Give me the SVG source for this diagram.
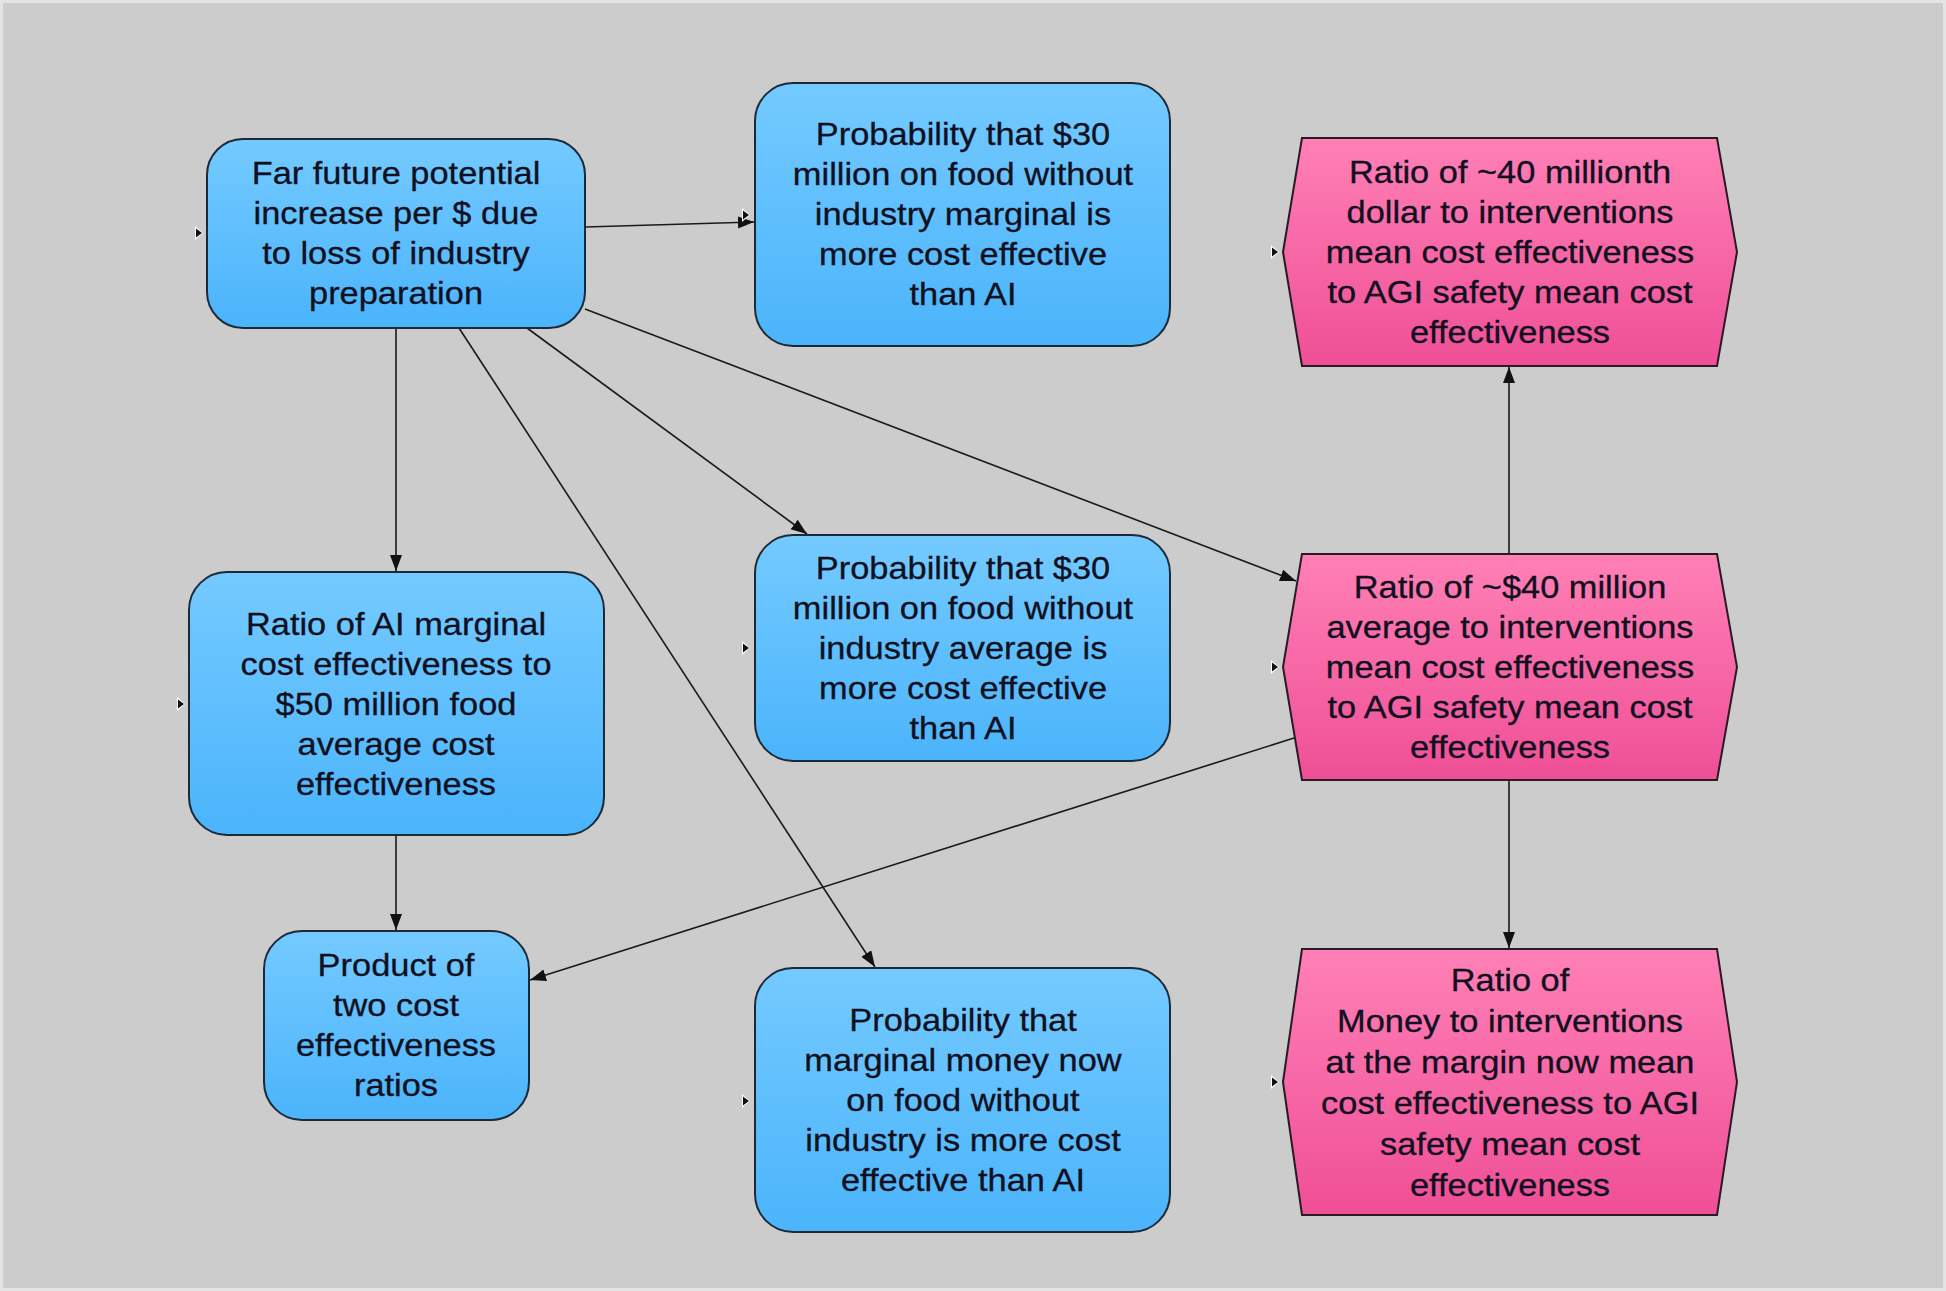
<svg xmlns="http://www.w3.org/2000/svg" width="1946" height="1291" viewBox="0 0 1946 1291">
<defs>
<linearGradient id="gBlue" x1="0" y1="0" x2="0" y2="1">
<stop offset="0" stop-color="#74caff"/>
<stop offset="1" stop-color="#4bb4fb"/>
</linearGradient>
<linearGradient id="gPink" x1="0" y1="0" x2="0" y2="1">
<stop offset="0" stop-color="#ff80b6"/>
<stop offset="1" stop-color="#ef4f96"/>
</linearGradient>
<marker id="arr" markerUnits="userSpaceOnUse" markerWidth="18" markerHeight="13" refX="16" refY="6" orient="auto">
<path d="M0,0 L16,6 L0,12 z" fill="#111"/>
</marker>
<g id="inTri">
<polygon points="-4,-7 4,0 -4,7" fill="#ffffff"/>
<polygon points="-3,-4.5 3,0 -3,4.5" fill="#111"/>
</g>
</defs>
<style>
.bg{fill:#cccccc;stroke:#e4e4e4;stroke-width:3}
.blue{fill:url(#gBlue);stroke:#1c2a38;stroke-width:2}
.pink{fill:url(#gPink);stroke:#2a1a24;stroke-width:2}
.lbl{font-family:"Liberation Sans",Arial,sans-serif;font-size:31px;fill:#10101e;text-anchor:middle;stroke:#10101e;stroke-width:0.3}
.conn line{stroke:#1a1a1a;stroke-width:1.6;marker-end:url(#arr)}
</style>
<rect class="bg" x="1.5" y="1.5" width="1943" height="1288"/>

<g id="connectors" class="conn">
<line x1="585" y1="227" x2="754" y2="222"/>
<line x1="396" y1="328" x2="396" y2="571"/>
<line x1="527" y1="328" x2="807" y2="534"/>
<line x1="459" y1="328" x2="875" y2="967"/>
<line x1="585" y1="309" x2="1296" y2="581"/>
<line x1="396" y1="835" x2="396" y2="930"/>
<line x1="1294" y1="738" x2="530" y2="980"/>
<line x1="1509" y1="553" x2="1509" y2="367"/>
<line x1="1509" y1="780" x2="1509" y2="948"/>
</g>

<g id="n_far_future">
<rect class="blue" x="207" y="139" width="378" height="189" rx="36"/>
<use href="#inTri" x="199" y="233"/>
<text class="lbl" transform="translate(396 0) scale(1.11 1)"><tspan x="0" y="184">Far future potential</tspan><tspan x="0" y="224">increase per $ due</tspan><tspan x="0" y="264">to loss of industry</tspan><tspan x="0" y="304">preparation</tspan></text>
</g>

<g id="n_prob_marginal">
<rect class="blue" x="755" y="83" width="415" height="263" rx="38"/>
<use href="#inTri" x="746" y="215"/>
<text class="lbl" transform="translate(963 0) scale(1.11 1)"><tspan x="0" y="145">Probability that $30</tspan><tspan x="0" y="185">million on food without</tspan><tspan x="0" y="225">industry marginal is</tspan><tspan x="0" y="265">more cost effective</tspan><tspan x="0" y="305">than AI</tspan></text>
</g>

<g id="n_ratio_40_millionth">
<polygon class="pink" points="1283,252 1302,138 1717,138 1737,252 1717,366 1302,366"/>
<use href="#inTri" x="1275" y="252"/>
<text class="lbl" transform="translate(1510 0) scale(1.11 1)"><tspan x="0" y="183">Ratio of ~40 millionth</tspan><tspan x="0" y="223">dollar to interventions</tspan><tspan x="0" y="263">mean cost effectiveness</tspan><tspan x="0" y="303">to AGI safety mean cost</tspan><tspan x="0" y="343">effectiveness</tspan></text>
</g>

<g id="n_ratio_ai_marginal">
<rect class="blue" x="189" y="572" width="415" height="263" rx="38"/>
<use href="#inTri" x="181" y="704"/>
<text class="lbl" transform="translate(396 0) scale(1.11 1)"><tspan x="0" y="635">Ratio of AI marginal</tspan><tspan x="0" y="675">cost effectiveness to</tspan><tspan x="0" y="715">$50 million food</tspan><tspan x="0" y="755">average cost</tspan><tspan x="0" y="795">effectiveness</tspan></text>
</g>

<g id="n_prob_average">
<rect class="blue" x="755" y="535" width="415" height="226" rx="38"/>
<use href="#inTri" x="746" y="648"/>
<text class="lbl" transform="translate(963 0) scale(1.11 1)"><tspan x="0" y="579">Probability that $30</tspan><tspan x="0" y="619">million on food without</tspan><tspan x="0" y="659">industry average is</tspan><tspan x="0" y="699">more cost effective</tspan><tspan x="0" y="739">than AI</tspan></text>
</g>

<g id="n_ratio_40_million">
<polygon class="pink" points="1283,667 1302,554 1717,554 1737,667 1717,780 1302,780"/>
<use href="#inTri" x="1275" y="667"/>
<text class="lbl" transform="translate(1510 0) scale(1.11 1)"><tspan x="0" y="598">Ratio of ~$40 million</tspan><tspan x="0" y="638">average to interventions</tspan><tspan x="0" y="678">mean cost effectiveness</tspan><tspan x="0" y="718">to AGI safety mean cost</tspan><tspan x="0" y="758">effectiveness</tspan></text>
</g>

<g id="n_product">
<rect class="blue" x="264" y="931" width="265" height="189" rx="38"/>
<text class="lbl" transform="translate(396 0) scale(1.11 1)"><tspan x="0" y="976">Product of</tspan><tspan x="0" y="1016">two cost</tspan><tspan x="0" y="1056">effectiveness</tspan><tspan x="0" y="1096">ratios</tspan></text>
</g>

<g id="n_prob_marginal_money">
<rect class="blue" x="755" y="968" width="415" height="264" rx="38"/>
<use href="#inTri" x="746" y="1101"/>
<text class="lbl" transform="translate(963 0) scale(1.11 1)"><tspan x="0" y="1031">Probability that</tspan><tspan x="0" y="1071">marginal money now</tspan><tspan x="0" y="1111">on food without</tspan><tspan x="0" y="1151">industry is more cost</tspan><tspan x="0" y="1191">effective than AI</tspan></text>
</g>

<g id="n_ratio_money_margin">
<polygon class="pink" points="1283,1082 1302,949 1717,949 1737,1082 1717,1215 1302,1215"/>
<use href="#inTri" x="1275" y="1082"/>
<text class="lbl" transform="translate(1510 0) scale(1.11 1)"><tspan x="0" y="991">Ratio of</tspan><tspan x="0" y="1032">Money to interventions</tspan><tspan x="0" y="1073">at the margin now mean</tspan><tspan x="0" y="1114">cost effectiveness to AGI</tspan><tspan x="0" y="1155">safety mean cost</tspan><tspan x="0" y="1196">effectiveness</tspan></text>
</g>
</svg>
